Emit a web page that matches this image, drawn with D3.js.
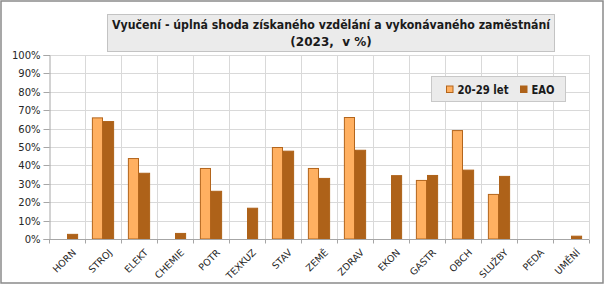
<!DOCTYPE html>
<html>
<head>
<meta charset="utf-8">
<script src="https://cdn.jsdelivr.net/npm/d3@7"></script>
<style>
  html, body { margin: 0; padding: 0; background: #fff; }
  svg { display: block; font-family: "DejaVu Sans", Verdana, sans-serif; }
</style>
</head>
<body>
<div id="chart"></div>
<script>
// Data (share in %)
const categories = ['HORN', 'STROJ', 'ELEKT', 'CHEMIE', 'POTR', 'TEXKUZ', 'STAV', 'ZEMĚ',
  'ZDRAV', 'EKON', 'GASTR', 'OBCH', 'SLUŽBY', 'PEDA', 'UMĚNÍ'];
const seriesNames = ['20-29 let', 'EAO'];
const young = [null, 66.1, 44.0, null, 38.6, null, 50.0, 38.6, 66.3, null, 32.1, 59.2, 24.5, null, null];
const eao = [2.8, 64.1, 36.0, 3.3, 26.2, 17.0, 48.0, 33.2, 48.5, 34.7, 34.8, 37.7, 34.3, null, 1.8];
const yTicks = [0, 10, 20, 30, 40, 50, 60, 70, 80, 90, 100];
const titleLines = ['Vyučení - úplná shoda získaného vzdělání a vykonávaného zaměstnání', '(2023,  v %)'];

const width = 605, height = 285;
const plot = { left: 49, right: 589, top: 55, bottom: 239 };
const fills = ['#FFB061', '#AE6219'];
const strokes = ['#B3651C', '#AE6219'];

const svg = d3.select('#chart').append('svg')
  .attr('width', width)
  .attr('height', height);

svg.append('rect')
  .attr('x', 1).attr('y', 1)
  .attr('width', width - 3).attr('height', height - 3)
  .attr('fill', '#fff')
  .attr('stroke', '#8a8a8a')
  .attr('stroke-width', 1.5);

// Scales
const x = d3.scaleBand().domain(categories).range([plot.left, plot.right]);
const xs = d3.scaleBand().domain(seriesNames).range([0, x.bandwidth()]).paddingOuter(0.62);
const y = d3.scaleLinear().domain([0, 100]).range([plot.bottom, plot.top]);

// Gridlines
const grid = svg.append('g').attr('stroke', '#d9d9d9').attr('stroke-width', 1);
grid.selectAll('.hgrid').data(yTicks.filter(d => d > 0)).enter().append('line')
  .attr('x1', plot.left).attr('x2', plot.right)
  .attr('y1', d => Math.round(y(d)) + 0.5).attr('y2', d => Math.round(y(d)) + 0.5);
grid.selectAll('.vgrid').data(categories).enter().append('line')
  .attr('x1', d => Math.round(x(d) + x.bandwidth()) + 0.5)
  .attr('x2', d => Math.round(x(d) + x.bandwidth()) + 0.5)
  .attr('y1', plot.top).attr('y2', plot.bottom);

// Bars
const rows = categories.map((c, i) => ({ cat: c, vals: [young[i], eao[i]] }));
const groups = svg.append('g').selectAll('g').data(rows).enter().append('g')
  .attr('transform', d => `translate(${x(d.cat)},0)`);
groups.selectAll('rect')
  .data(d => d.vals.map((v, k) => ({ v, k })).filter(e => e.v != null))
  .enter().append('rect')
  .attr('x', e => xs(seriesNames[e.k]) + 0.5)
  .attr('y', e => y(e.v) + 0.5)
  .attr('width', xs.bandwidth() - 1)
  .attr('height', e => y(0) - y(e.v) - 0.5)
  .attr('fill', e => fills[e.k])
  .attr('stroke', e => strokes[e.k])
  .attr('stroke-width', 1);

// Y axis
const yAxis = svg.append('g')
  .attr('transform', `translate(${plot.left + 0.5},0)`)
  .call(d3.axisLeft(y).tickValues(yTicks).tickFormat(d => d + '%').tickSize(6).tickPadding(3));
yAxis.select('.domain').attr('stroke', '#a6a6a6');
yAxis.selectAll('.tick line').attr('stroke', '#a6a6a6');
yAxis.selectAll('.tick').attr('transform', d => `translate(0,${Math.round(y(d)) + 0.5})`);
yAxis.selectAll('text')
  .attr('fill', '#262626')
  .style('font-size', '10px')
  .style('font-family', '"DejaVu Sans", sans-serif');

// X axis
const xAxis = svg.append('g').attr('transform', `translate(0,${plot.bottom + 0.5})`);
xAxis.append('line')
  .attr('x1', plot.left).attr('x2', plot.right)
  .attr('stroke', '#a6a6a6');
xAxis.selectAll('.xtick').data([categories[0]].concat(categories)).enter().append('line')
  .attr('x1', (d, i) => Math.round(plot.left + i * x.bandwidth()) + 0.5)
  .attr('x2', (d, i) => Math.round(plot.left + i * x.bandwidth()) + 0.5)
  .attr('y1', 0).attr('y2', 4)
  .attr('stroke', '#a6a6a6');
xAxis.selectAll('text').data(categories).enter().append('text')
  .attr('transform', d => `translate(${x(d) + x.bandwidth() / 2 + 5},9) rotate(-45)`)
  .attr('text-anchor', 'end')
  .attr('dy', '0.7em')
  .attr('fill', '#262626')
  .style('font-size', '9.5px')
  .text(d => d);

// Title box
svg.append('rect')
  .attr('x', 107.5).attr('y', 14.5)
  .attr('width', 447).attr('height', 37)
  .attr('fill', '#ebebeb')
  .attr('stroke', '#c3c3c3');
svg.append('text')
  .attr('x', 331).attr('y', 29)
  .attr('text-anchor', 'middle')
  .attr('fill', '#1a1a1a')
  .style('font-size', '12px')
  .style('font-weight', 'bold')
  .attr('textLength', 438)
  .attr('lengthAdjust', 'spacingAndGlyphs')
  .text(titleLines[0]);
svg.append('text')
  .attr('x', 331).attr('y', 46)
  .attr('text-anchor', 'middle')
  .attr('fill', '#1a1a1a')
  .style('font-size', '12px')
  .style('font-weight', 'bold')
  .attr('xml:space', 'preserve')
  .text(titleLines[1]);

// Legend
const legend = svg.append('g');
legend.append('rect')
  .attr('x', 431.5).attr('y', 76.5)
  .attr('width', 134).attr('height', 25)
  .attr('fill', '#ebebeb')
  .attr('stroke', '#c8c8c8');
const legendX = [446.5, 520.5];
const legendW = [51, 23];
const items = legend.selectAll('.item').data(seriesNames).enter().append('g')
  .attr('transform', (d, i) => `translate(${legendX[i]},86)`);
items.append('rect')
  .attr('width', 6.5).attr('height', 6.5)
  .attr('fill', (d, i) => fills[i])
  .attr('stroke', (d, i) => strokes[i]);
items.append('text')
  .attr('x', 11).attr('y', 8)
  .attr('fill', '#1a1a1a')
  .style('font-size', '12px')
  .style('font-weight', 'bold')
  .attr('textLength', (d, i) => legendW[i])
  .attr('lengthAdjust', 'spacingAndGlyphs')
  .text(d => d);
</script>
</body>
</html>
